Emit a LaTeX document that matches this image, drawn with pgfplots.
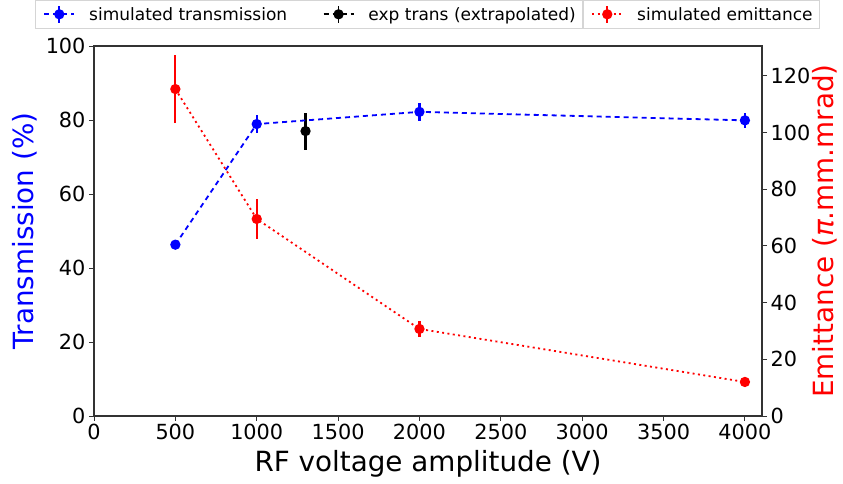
\documentclass[border=0pt]{standalone}
\usepackage{fontspec}
\setmainfont{DejaVu Sans}
\usepackage{pgfplots}
\pgfplotsset{compat=1.18}
\definecolor{mblue}{HTML}{0000FF}
\definecolor{mred}{HTML}{FF0000}
\definecolor{lgray}{HTML}{D5D5D5}
\pgfplotsset{
  every axis/.append style={
    scale only axis, width=668pt, height=370pt,
    xmin=0, xmax=4105,
    tick align=outside,
    major tick length=5pt,
    tick style={line width=0.9pt, color=black!80},
    axis line style={line width=1.1pt, color=black!80},
    tick label style={font=\fontsize{20.8}{23}\selectfont},
    label style={font=\fontsize{27.8}{31}\selectfont},
    /pgf/number format/assume math mode=true,
    /pgf/number format/1000 sep={},
    legend style={font=\fontsize{17}{19}\selectfont, draw=lgray, line width=0.8pt,
      inner xsep=4.5pt, inner ysep=4.5pt, anchor=north west,
      /tikz/every odd column/.append style={column sep=12pt}},
    legend image code/.code={
      \path (-3.5pt,0pt);
      \draw[#1,mark=none] (0pt,0pt) -- (30pt,0pt);
      \draw[#1,solid,mark=none] (15pt,-8.5pt) -- (15pt,8.5pt);
      \draw[mark repeat=2,mark phase=2,#1,draw=none] plot coordinates {(0pt,0pt) (15pt,0pt) (30pt,0pt)};
    },
  },
  ebar/.style={forget plot, draw=#1, line width=2.1pt, mark=none, solid},
}
\begin{document}
\begin{tikzpicture}
\useasboundingbox (-94pt,-68pt) rectangle (749pt,416pt);
\begin{axis}[
  ymin=0, ymax=100,
  xtick={0,500,...,4000}, ytick={0,20,...,100},
  xtick pos=bottom, ytick pos=left,
  xlabel={RF voltage amplitude (V)},
  ylabel={Transmission (\%)},
  ylabel style={color=mblue},
  xlabel style={yshift=-3pt},
  ylabel style={yshift=2pt},
  legend columns=2,
  legend style={at={(axis description cs:-0.0883,1.1243)},
    /tikz/every even column/.append style={column sep=30pt}},
]
% error bars (beneath the markers)
\addplot[ebar=mblue] coordinates {(500,45.3) (500,47.3)};
\addplot[ebar=mblue] coordinates {(1000,76.5) (1000,81.3)};
\addplot[ebar=mblue] coordinates {(2000,79.8) (2000,84.6)};
\addplot[ebar=mblue] coordinates {(4000,77.9) (4000,81.9)};
\addplot[ebar=black] coordinates {(1300,72.0) (1300,82.0)};
\addplot[color=mblue, line width=1.8pt, dash pattern=on 5pt off 4pt,
  mark=*, mark size=4.2pt, mark options={solid}]
  coordinates {(500,46.3) (1000,78.9) (2000,82.2) (4000,79.9)};
\addlegendentry{simulated transmission}
\addplot[color=black, line width=1.8pt, dash pattern=on 5pt off 4pt,
  mark=*, mark size=4.2pt, mark options={solid}]
  coordinates {(1300,77.0)};
\addlegendentry{exp trans (extrapolated)}
\end{axis}
\begin{axis}[
  ymin=0, ymax=130.5,
  axis x line=none,
  axis y line*=right,
  ytick={0,20,...,120},
  ytick pos=right,
  ylabel={Emittance ({\itshape π}.mm.mrad)},
  ylabel style={color=mred},
  ylabel shift=-5pt,
  legend style={at={(axis description cs:0.7320,1.1243)}},
]
\addplot[ebar=mred] coordinates {(500,103.3) (500,127.3)};
\addplot[ebar=mred] coordinates {(1000,62.6) (1000,76.4)};
\addplot[ebar=mred] coordinates {(2000,27.8) (2000,33.6)};
\addplot[ebar=mred] coordinates {(4000,11.5) (4000,12.5)};
\addplot[color=mred, line width=1.8pt, dash pattern=on 2pt off 3.4pt,
  mark=*, mark size=4.2pt, mark options={solid}]
  coordinates {(500,115.3) (1000,69.5) (2000,30.7) (4000,12.0)};
\addlegendentry{simulated emittance}
\end{axis}
\end{tikzpicture}
\end{document}
